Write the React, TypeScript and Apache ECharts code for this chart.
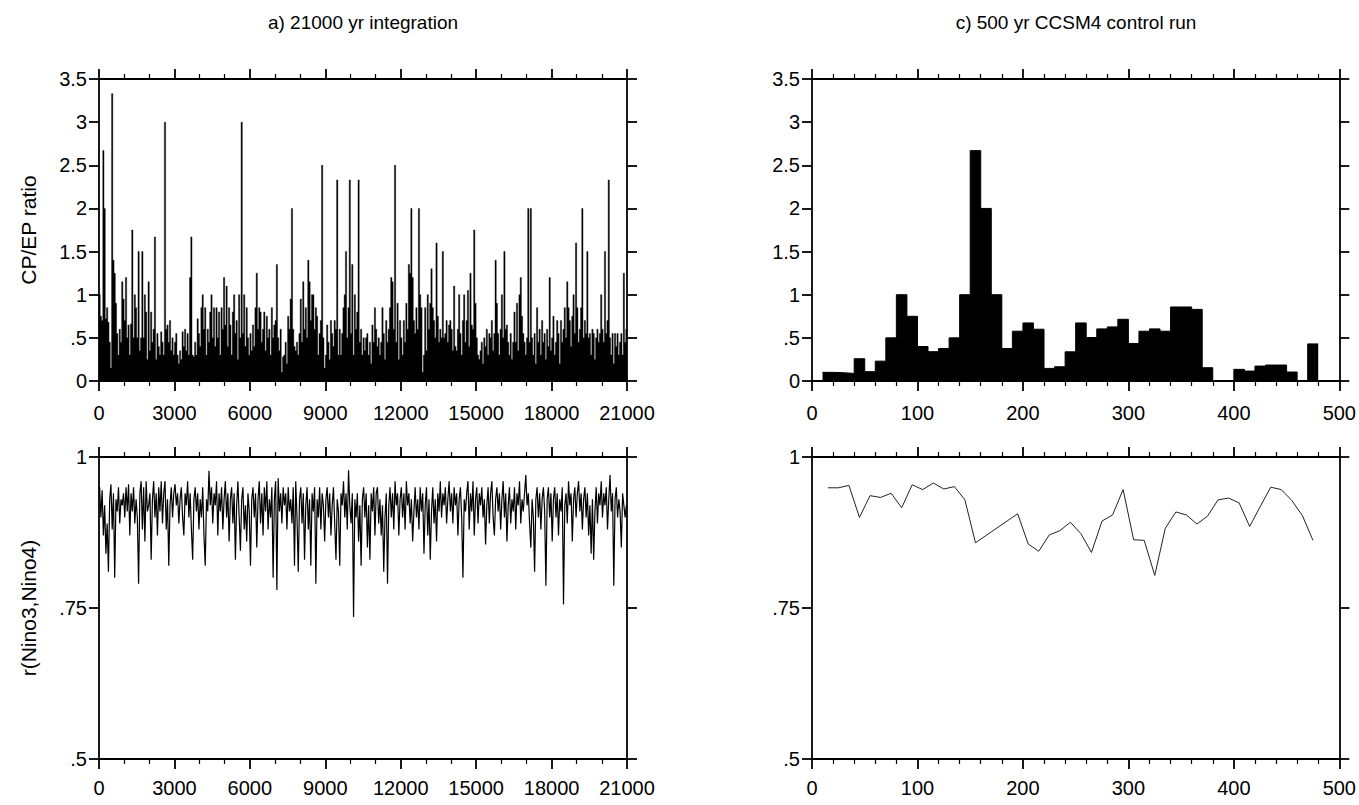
import React, { useEffect, useRef } from "react";
import * as echarts from "echarts";

// ---------- data ----------
// a) 21000 yr integration, CP/EP ratio, 50-yr bins starting at year 0
const longBinYears = 50;
const longCpEp: number[] = [
  1.0, 0.75, 0.7, 2.67, 2.0, 0.72, 0.85, 0.68, 0.45, 0.15, 3.33, 1.4, 1.25, 0.9, 0.55, 0.3, 0.6, 0.45, 1.15, 0.95,
  0.7, 1.2, 0.5, 0.65, 0.3, 0.66, 1.75, 0.5, 1.0, 0.85, 0.5, 1.5, 0.35, 0.5, 1.5, 0.5, 1.0, 0.8, 0.25, 1.15,
  0.35, 0.8, 0.45, 0.6, 1.67, 0.25, 0.55, 0.4, 0.3, 0.57, 0.45, 0.3, 3.0, 0.6, 0.65, 0.45, 0.7, 0.35, 0.5, 0.3,
  0.45, 0.55, 0.3, 0.2, 0.35, 0.25, 0.57, 0.4, 0.6, 0.35, 0.55, 0.3, 1.2, 1.67, 0.3, 0.28, 0.45, 0.3, 0.72, 0.55,
  0.4, 0.85, 1.0, 0.6, 0.85, 0.3, 0.6, 0.45, 0.8, 1.0, 0.5, 0.85, 0.4, 0.85, 0.5, 0.8, 0.3, 0.85, 0.6, 1.2,
  0.65, 1.1, 0.4, 0.85, 0.65, 0.3, 0.8, 1.0, 0.55, 0.7, 0.25, 1.0, 0.5, 3.0, 0.55, 1.0, 0.4, 0.85, 0.5, 0.3,
  0.55, 0.35, 0.65, 0.4, 0.85, 1.25, 0.6, 0.85, 0.8, 0.45, 0.6, 0.8, 0.35, 0.75, 0.5, 0.6, 0.3, 0.85, 0.5, 0.65,
  0.7, 1.35, 0.5, 0.35, 0.6, 0.1, 0.28, 0.3, 0.45, 0.2, 0.75, 0.6, 0.95, 2.0, 0.6, 0.4, 0.35, 0.45, 0.3, 0.55,
  0.95, 0.45, 1.15, 0.6, 0.85, 0.5, 1.4, 1.15, 0.7, 1.0, 1.0, 0.6, 0.85, 0.75, 0.3, 0.55, 0.7, 2.5, 0.5, 0.15,
  0.3, 0.65, 0.45, 0.25, 0.7, 0.55, 0.4, 0.7, 0.6, 2.33, 0.3, 0.6, 0.3, 0.55, 0.85, 1.0, 1.5, 0.5, 0.85, 2.33,
  0.55, 1.35, 0.3, 1.0, 0.6, 0.8, 2.33, 0.45, 0.6, 0.3, 0.5, 0.35, 0.5, 0.55, 0.3, 0.45, 0.2, 0.65, 0.45, 0.85,
  0.6, 0.4, 0.5, 0.3, 0.45, 0.85, 0.55, 0.25, 0.7, 0.45, 0.6, 0.85, 1.2, 1.15, 0.6, 2.5, 0.45, 0.9, 0.25, 0.7,
  0.5, 0.3, 0.7, 0.45, 0.9, 0.6, 1.35, 1.25, 2.0, 1.2, 0.7, 0.55, 0.85, 0.6, 2.0, 1.0, 0.85, 0.1, 0.3, 0.85,
  0.35, 1.0, 0.6, 0.9, 1.3, 0.85, 0.7, 0.5, 1.6, 0.75, 0.45, 0.6, 0.5, 1.5, 0.5, 0.55, 0.7, 0.45, 0.65, 0.7,
  0.6, 0.35, 1.1, 0.4, 0.35, 0.6, 1.0, 0.55, 0.3, 0.7, 1.0, 0.45, 0.7, 1.05, 0.4, 1.25, 0.65, 0.6, 1.75, 0.9,
  0.5, 0.3, 0.25, 0.35, 0.45, 0.2, 0.5, 0.4, 0.6, 0.3, 0.55, 0.5, 0.7, 0.35, 0.55, 1.4, 0.9, 0.55, 0.3, 0.6,
  1.0, 0.5, 1.5, 0.6, 0.65, 0.45, 0.3, 0.55, 0.25, 0.45, 0.8, 0.45, 0.9, 0.35, 1.0, 1.2, 0.75, 0.55, 0.45, 0.3,
  0.5, 2.0, 0.45, 2.0, 0.5, 0.3, 0.55, 0.2, 0.85, 0.45, 0.6, 0.3, 0.7, 0.45, 0.55, 0.25, 0.6, 0.4, 1.2, 0.35,
  0.5, 0.75, 0.3, 0.45, 0.7, 0.55, 0.2, 0.7, 0.45, 0.6, 0.85, 0.5, 1.15, 0.85, 0.7, 0.4, 0.75, 1.0, 0.55, 1.6,
  0.85, 0.45, 0.6, 0.85, 2.0, 0.5, 0.7, 0.55, 1.5, 0.5, 0.55, 0.3, 0.6, 0.55, 0.25, 0.5, 0.6, 0.45, 0.55, 1.0,
  0.6, 0.45, 1.5, 0.55, 0.7, 2.33, 0.5, 0.3, 0.55, 0.2, 0.55, 0.4, 0.55, 0.3, 0.45, 0.55, 0.3, 1.25, 0.45, 0.6,
];

// a) 21000 yr integration, r(Nino3,Nino4), one value per 50-yr bin
const longCorr: number[] = [
  0.95, 0.9, 0.945, 0.87, 0.92, 0.84, 0.89, 0.81, 0.93, 0.955, 0.88, 0.94, 0.8, 0.93, 0.91, 0.95, 0.89, 0.93, 0.92, 0.94,
  0.9, 0.95, 0.91, 0.955, 0.87, 0.94, 0.91, 0.95, 0.89, 0.93, 0.9, 0.79, 0.94, 0.96, 0.88, 0.95, 0.86, 0.96, 0.91, 0.92,
  0.94, 0.83, 0.93, 0.96, 0.9, 0.94, 0.87, 0.95, 0.91, 0.96, 0.89, 0.94, 0.96, 0.88, 0.93, 0.82, 0.92, 0.95, 0.9, 0.94,
  0.955, 0.92, 0.94, 0.89, 0.93, 0.95, 0.9, 0.87, 0.94, 0.92, 0.96, 0.9, 0.94, 0.88, 0.83, 0.93, 0.95, 0.91, 0.94, 0.88,
  0.93, 0.9, 0.95, 0.87, 0.82, 0.93, 0.91, 0.977, 0.92, 0.95, 0.89, 0.94, 0.92, 0.96, 0.87, 0.94, 0.91, 0.95, 0.88, 0.93,
  0.96, 0.9, 0.94, 0.86, 0.93, 0.95, 0.89, 0.94, 0.83, 0.92, 0.96, 0.9, 0.845, 0.93, 0.95, 0.88, 0.92, 0.86, 0.94, 0.91,
  0.82, 0.93, 0.95, 0.9, 0.94, 0.85, 0.93, 0.96, 0.89, 0.94, 0.87, 0.95, 0.91, 0.96, 0.88, 0.93, 0.9, 0.95, 0.8, 0.93,
  0.96, 0.78, 0.965, 0.91, 0.94, 0.89, 0.95, 0.92, 0.94, 0.88, 0.95, 0.91, 0.93, 0.89, 0.95, 0.82, 0.96, 0.9, 0.81, 0.93,
  0.95, 0.89, 0.94, 0.83, 0.92, 0.95, 0.88, 0.93, 0.82, 0.94, 0.91, 0.95, 0.79, 0.93, 0.9, 0.95, 0.88, 0.94, 0.92, 0.86,
  0.93, 0.95, 0.9, 0.94, 0.87, 0.92, 0.95, 0.89, 0.83, 0.93, 0.91, 0.82, 0.94, 0.92, 0.96, 0.9, 0.94, 0.88, 0.978, 0.92,
  0.89, 0.94, 0.735, 0.93, 0.9, 0.94, 0.86, 0.92, 0.82, 0.93, 0.95, 0.9, 0.94, 0.85, 0.92, 0.83, 0.94, 0.91, 0.95, 0.87,
  0.94, 0.95, 0.89, 0.93, 0.87, 0.92, 0.81, 0.9, 0.94, 0.79, 0.92, 0.95, 0.9, 0.94, 0.88, 0.96, 0.92, 0.94, 0.87, 0.93,
  0.95, 0.9, 0.94, 0.88, 0.96, 0.92, 0.94, 0.89, 0.93, 0.86, 0.91, 0.95, 0.9, 0.93, 0.88, 0.95, 0.91, 0.94, 0.84, 0.92,
  0.95, 0.87, 0.93, 0.83, 0.91, 0.95, 0.89, 0.93, 0.86, 0.94, 0.91, 0.96, 0.9, 0.94, 0.92, 0.95, 0.89, 0.93, 0.96, 0.91,
  0.94, 0.89, 0.95, 0.92, 0.94, 0.87, 0.93, 0.95, 0.9, 0.8, 0.93, 0.91, 0.94, 0.96, 0.88, 0.94, 0.91, 0.96, 0.87, 0.93,
  0.95, 0.89, 0.94, 0.92, 0.95, 0.9, 0.93, 0.855, 0.92, 0.95, 0.89, 0.94, 0.96, 0.9, 0.87, 0.93, 0.95, 0.91, 0.94, 0.88,
  0.93, 0.96, 0.9, 0.94, 0.86, 0.92, 0.95, 0.89, 0.93, 0.91, 0.95, 0.88, 0.94, 0.92, 0.96, 0.89, 0.93, 0.91, 0.94, 0.97,
  0.92, 0.94, 0.89, 0.85, 0.93, 0.9, 0.81, 0.93, 0.95, 0.9, 0.94, 0.88, 0.93, 0.95, 0.91, 0.787, 0.93, 0.95, 0.9, 0.94,
  0.86, 0.93, 0.95, 0.9, 0.94, 0.87, 0.93, 0.91, 0.95, 0.756, 0.92, 0.94, 0.89, 0.96, 0.92, 0.94, 0.86, 0.93, 0.95, 0.9,
  0.94, 0.96, 0.91, 0.94, 0.88, 0.93, 0.95, 0.9, 0.94, 0.87, 0.92, 0.84, 0.93, 0.83, 0.91, 0.95, 0.89, 0.94, 0.92, 0.96,
  0.9, 0.94, 0.92, 0.95, 0.88, 0.93, 0.97, 0.91, 0.94, 0.787, 0.93, 0.95, 0.9, 0.93, 0.91, 0.85, 0.94, 0.92, 0.9, 0.92,
];

// c) 500 yr CCSM4 control run: CP/EP ratio per 10-yr bin, first bin starts at year 10
const ctlBinStart = 10;
const ctlBinYears = 10;
const ctlCpEp: number[] = [
  0.1, 0.096, 0.088, 0.258, 0.108, 0.23, 0.5, 1.0, 0.75, 0.4,
  0.34, 0.377, 0.5, 1.0, 2.67, 2.0, 1.0, 0.377, 0.577, 0.673,
  0.6, 0.146, 0.165, 0.338, 0.673, 0.504, 0.604, 0.627, 0.715, 0.435,
  0.577, 0.604, 0.577, 0.858, 0.858, 0.83, 0.154, 0, 0, 0.135,
  0.115, 0.173, 0.185, 0.185, 0.104, 0, 0.43,
];

// c) r(Nino3,Nino4) of the control run
const ctlCorrYears: number[] = [
  15, 25, 35, 45, 55, 65, 75, 85, 95, 105, 115, 125, 135, 145, 155,
  195, 205, 215, 225, 235, 245, 255, 265, 275, 285, 295, 305, 315, 325, 335,
  345, 355, 365, 375, 385, 395, 405, 415, 425, 435, 445, 455, 465, 475,
];
const ctlCorr: number[] = [
  0.949, 0.949, 0.953, 0.9, 0.936, 0.933, 0.94, 0.916, 0.954, 0.946, 0.957, 0.947, 0.951, 0.929, 0.858,
  0.906, 0.856, 0.844, 0.871, 0.878, 0.892, 0.873, 0.842, 0.894, 0.904, 0.946, 0.863, 0.862, 0.804, 0.882,
  0.909, 0.904, 0.889, 0.902, 0.929, 0.932, 0.924, 0.885, 0.918, 0.95, 0.946, 0.928, 0.903, 0.862,
];

const longXTicks = { min: 0, max: 21000, interval: 3000, minorSplit: 3 };
const ctlXTicks = { min: 0, max: 500, interval: 100, minorSplit: 5 };
const ratioYTicks = { min: 0, max: 3.5, interval: 0.5 };
const corrYTicks = { min: 0.5, max: 1, interval: 0.25 };

const titles = ["a) 21000 yr integration", "c) 500 yr CCSM4 control run"];
const yNames = ["CP/EP ratio", "r(Nino3,Nino4)"];

// ---------- chart ----------
const FONT = '"Liberation Sans", Arial, Helvetica, sans-serif';
const LABEL_SIZE = 20;

const fmtY = (v: number) => {
  if (v === 0) return "0";
  let s = String(Math.round(v * 1000) / 1000);
  if (s.startsWith("0.")) s = s.slice(1);
  return s;
};

// histogram outline points: one step per bin, closed at the end of the last bin
function stepPoints(values: number[], start: number, width: number): number[][] {
  const pts = values.map((v, i) => [start + i * width, v]);
  pts.push([start + values.length * width, values[values.length - 1]]);
  return pts;
}

export default function App() {
  const ref = useRef<HTMLDivElement>(null);
  useEffect(() => {
    if (!ref.current) return;
    const chart = echarts.init(ref.current, undefined, { renderer: "svg" });

    const grids = [
      { left: 99, top: 79, width: 528, height: 302 },
      { left: 99, top: 457, width: 528, height: 302 },
      { left: 812, top: 79, width: 528, height: 302 },
      { left: 812, top: 457, width: 528, height: 302 },
    ];
    const xt = [longXTicks, longXTicks, ctlXTicks, ctlXTicks];
    const yt = [ratioYTicks, corrYTicks, ratioYTicks, corrYTicks];
    const labelMargin = [22, 19, 22, 19];

    const line = { show: true, onZero: false, lineStyle: { color: "#000", width: 1.8 } };
    const tick = { show: true, inside: false, length: 10, lineStyle: { color: "#000", width: 1.8 } };

    const xAxis: any[] = [];
    const yAxis: any[] = [];
    grids.forEach((_, g) => {
      const t = xt[g];
      ["bottom", "top"].forEach((pos) => {
        xAxis.push({
          type: "value",
          gridIndex: g,
          position: pos,
          min: t.min,
          max: t.max,
          interval: t.interval,
          axisLine: line,
          axisTick: tick,
          minorTick: { show: true, splitNumber: t.minorSplit, length: 5, lineStyle: { color: "#000", width: 1.2 } },
          splitLine: { show: false },
          minorSplitLine: { show: false },
          axisLabel: {
            show: pos === "bottom",
            margin: labelMargin[g],
            color: "#000",
            fontFamily: FONT,
            fontSize: LABEL_SIZE,
            formatter: (v: number) => String(v),
          },
        });
      });
      const u = yt[g];
      ["left", "right"].forEach((pos) => {
        yAxis.push({
          type: "value",
          gridIndex: g,
          position: pos,
          min: u.min,
          max: u.max,
          interval: u.interval,
          axisLine: line,
          axisTick: tick,
          splitLine: { show: false },
          axisLabel: {
            show: pos === "left",
            margin: 12,
            color: "#000",
            fontFamily: FONT,
            fontSize: LABEL_SIZE,
            formatter: fmtY,
          },
        });
      });
    });

    const series: any[] = [
      {
        type: "line",
        step: "end",
        xAxisIndex: 0,
        yAxisIndex: 0,
        symbol: "none",
        showSymbol: false,
        lineStyle: { color: "#000", width: 0.4 },
        areaStyle: { color: "#000", opacity: 1 },
        data: stepPoints(longCpEp, 0, longBinYears),
      },
      {
        type: "line",
        xAxisIndex: 2,
        yAxisIndex: 2,
        showSymbol: false,
        symbol: "none",
        lineStyle: { color: "#000", width: 1.2 },
        data: longCorr.map((v, i) => [i * longBinYears + longBinYears / 2, v]),
      },
      {
        type: "line",
        step: "end",
        xAxisIndex: 4,
        yAxisIndex: 4,
        symbol: "none",
        showSymbol: false,
        lineStyle: { color: "#000", width: 1 },
        areaStyle: { color: "#000", opacity: 1 },
        data: stepPoints(ctlCpEp, ctlBinStart, ctlBinYears),
      },
      {
        type: "line",
        xAxisIndex: 6,
        yAxisIndex: 6,
        showSymbol: false,
        symbol: "none",
        lineStyle: { color: "#222", width: 1 },
        data: ctlCorrYears.map((x, i) => [x, ctlCorr[i]]),
      },
    ];

    const textStyle = (text: string, size: number) => ({
      text,
      fill: "#000",
      font: `${size}px ${FONT}`,
      textAlign: "center",
      textVerticalAlign: "middle",
      align: "center",
      verticalAlign: "middle",
    });

    const graphic: any[] = [
      { type: "text", x: 363, y: 22, style: textStyle(titles[0], 19) },
      { type: "text", x: 1076, y: 22, style: textStyle(titles[1], 19) },
      { type: "text", x: 28, y: 230, rotation: Math.PI / 2, style: textStyle(yNames[0], 21) },
      { type: "text", x: 28, y: 608, rotation: Math.PI / 2, style: textStyle(yNames[1], 21) },
    ];

    chart.setOption({
      animation: false,
      backgroundColor: "#fff",
      grid: grids.map((g) => ({ ...g, containLabel: false })),
      xAxis,
      yAxis,
      series,
      graphic,
    });
    return () => chart.dispose();
  }, []);

  return (
    <div
      ref={ref}
      style={{ position: "fixed", left: 0, top: 0, width: 1359, height: 805, background: "#fff" }}
    />
  );
}
